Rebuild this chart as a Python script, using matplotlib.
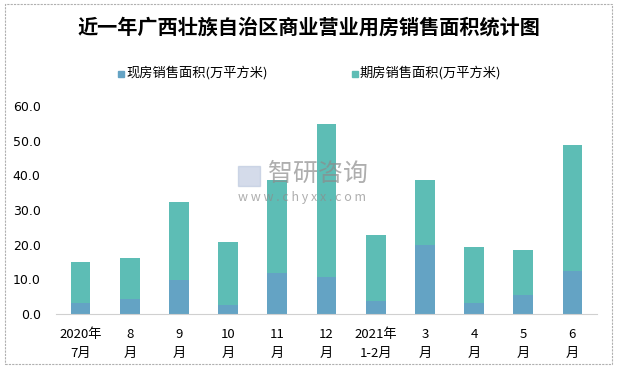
import matplotlib
matplotlib.use("Agg")
import matplotlib.pyplot as plt
from matplotlib.patches import Rectangle

plt.rcParams['font.family'] = ['Noto Sans CJK SC', 'DejaVu Sans']

months = ["2020年\n7月", "8\n月", "9\n月", "10\n月", "11\n月", "12\n月",
          "2021年\n1-2月", "3\n月", "4\n月", "5\n月", "6\n月"]
# 现房销售面积 (万平方米)
xianfang = [3.2, 4.3, 9.8, 2.6, 11.8, 10.7, 3.7, 19.9, 3.2, 5.5, 12.4]
# 总量, 期房 = 总量 - 现房
total = [15.0, 16.2, 32.3, 20.8, 38.7, 54.8, 22.8, 38.7, 19.3, 18.5, 48.7]
qifang = [round(t - x, 1) for t, x in zip(total, xianfang)]
yticks = [0, 10, 20, 30, 40, 50, 60]

c_blue = "#64A3C4"
c_teal = "#5DBDB5"

fig = plt.figure(figsize=(6.17, 3.67), dpi=100)
ax = fig.add_axes([56/617, 1 - 314/367, (597-56)/617, (314-106)/367])

x = range(len(months))
ax.bar(x, xianfang, width=0.4, color=c_blue, label="现房销售面积(万平方米)", zorder=2)
ax.bar(x, qifang, width=0.4, bottom=xianfang, color=c_teal, label="期房销售面积(万平方米)", zorder=2)

ax.set_xlim(-0.5, len(months) - 0.5)
ax.set_ylim(0, 60)
ax.set_yticks(yticks)
ax.set_yticklabels(["%.1f" % v for v in yticks], fontsize=9, family=['DejaVu Sans'])
ax.set_xticks(list(x))
ax.set_xticklabels(months, fontsize=9.5, linespacing=1.6)
ax.tick_params(axis='both', length=0)
ax.tick_params(axis='y', pad=11)
ax.tick_params(axis='x', pad=10)
for s in ["top", "right", "left"]:
    ax.spines[s].set_visible(False)
ax.spines["bottom"].set_color("#D0D0D0")

fig.text(0.5, 1 - 27/367, "近一年广西壮族自治区商业营业用房销售面积统计图",
         ha="center", va="center", fontsize=14.5, fontweight="bold")

# legend
for lx, lab, col in [(118, "现房销售面积(万平方米)", c_blue), (352, "期房销售面积(万平方米)", c_teal)]:
    fig.patches.append(Rectangle((lx/617, 1 - 77/367), 6/617, 6/367,
                                 transform=fig.transFigure, color=col))
    fig.text((lx + 8)/617, 1 - 73/367, lab, ha="left", va="center", fontsize=9.5)

# watermark
fig.text(268/617, 1 - 174/367, "智研咨询", ha="left", va="center", fontsize=18,
         color="#8C8C8C", alpha=0.7)
fig.text(238/617, 1 - 197/367, "w w w . c h y x x . c o m", ha="left", va="center",
         fontsize=9, color="#8C8C8C", alpha=0.7)
fig.patches.append(Rectangle((238/617, 1 - 186/367), 22/617, 20/367,
                             transform=fig.transFigure, color="#B8C4DC", alpha=0.6))

# outer border
fig.patches.append(Rectangle((5/617, 3/367), 607/617, 360/367, transform=fig.transFigure,
                             fill=False, edgecolor="#B0B0B0", linewidth=0.8, linestyle=(0, (2, 1))))

fig.savefig("out.png", dpi=100)
